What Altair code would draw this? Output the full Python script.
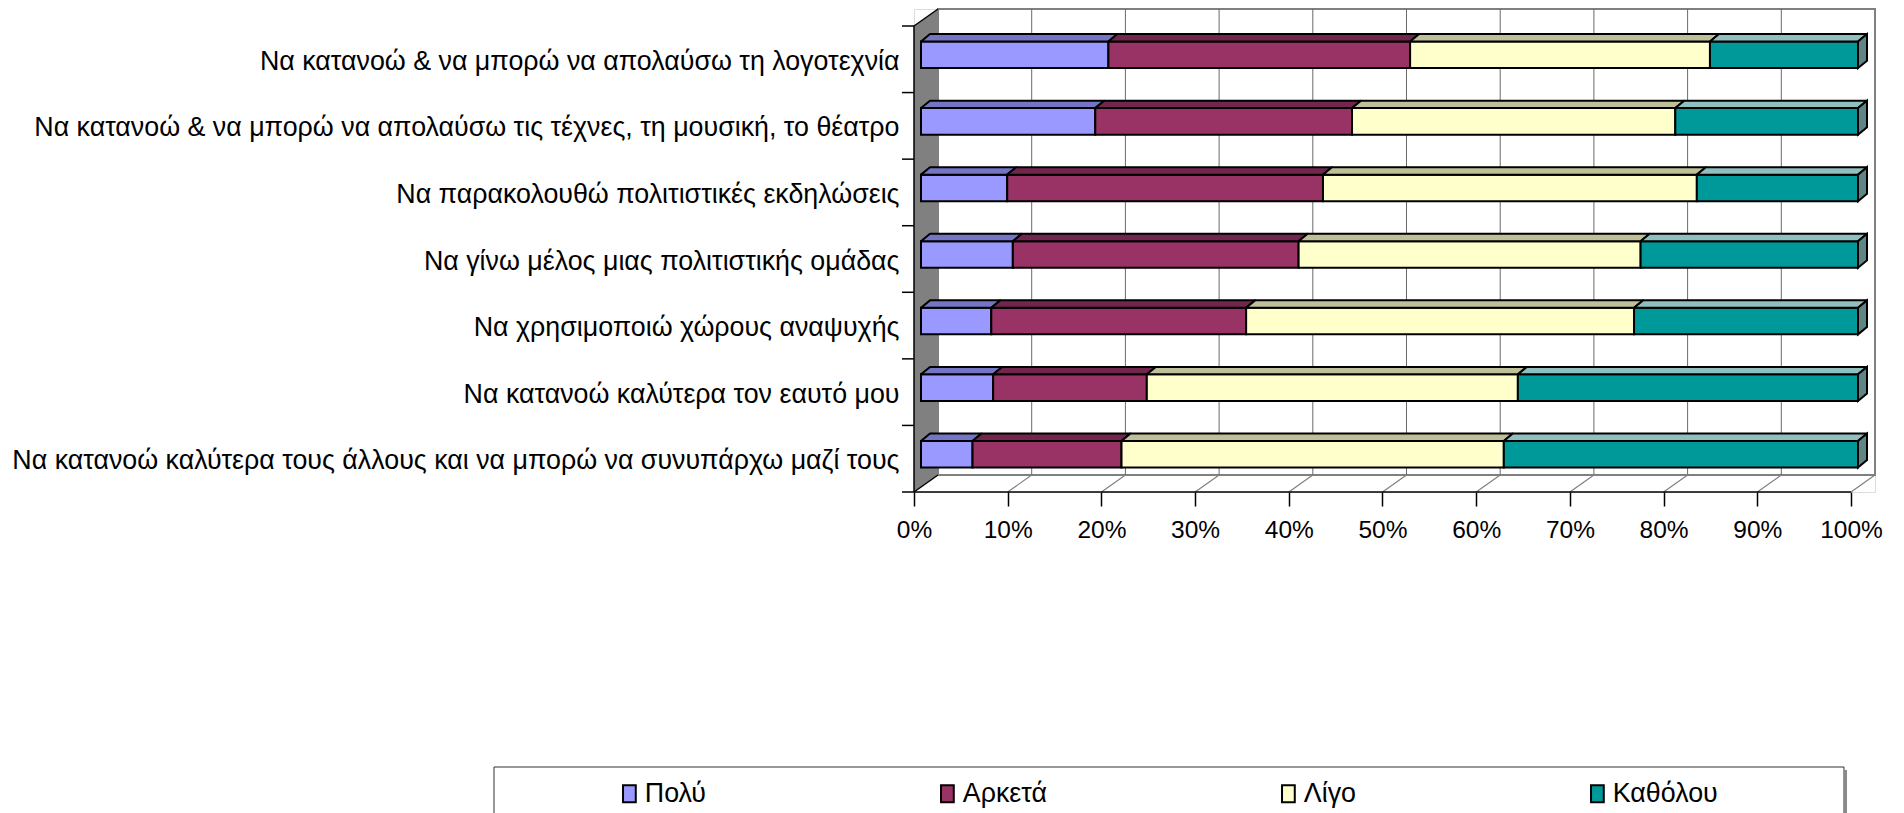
import json
import altair as alt
import pandas as pd

# ---------------- data ----------------
categories = [
    "Να κατανοώ & να μπορώ να απολαύσω τη λογοτεχνία",
    "Να κατανοώ & να μπορώ να απολαύσω τις τέχνες, τη μουσική, το θέατρο",
    "Να παρακολουθώ πολιτιστικές εκδηλώσεις",
    "Να γίνω μέλος μιας πολιτιστικής ομάδας",
    "Να χρησιμοποιώ χώρους αναψυχής",
    "Να κατανοώ καλύτερα τον εαυτό μου",
    "Να κατανοώ καλύτερα τους άλλους και να μπορώ να συνυπάρχω μαζί τους",
]
series = ["Πολύ", "Αρκετά", "Λίγο", "Καθόλου"]
poly = [20.0, 18.6, 9.2, 9.8, 7.5, 7.7, 5.5]
arketa = [32.2, 27.4, 33.7, 30.5, 27.2, 16.4, 15.9]
ligo = [32.0, 34.5, 39.9, 36.5, 41.4, 39.6, 40.8]
katholou = [15.8, 19.5, 17.2, 23.2, 23.9, 36.3, 37.8]
x_ticks = [0, 10, 20, 30, 40, 50, 60, 70, 80, 90, 100]

# ---------------- styles ----------------
front_colors = ["#9999FF", "#993366", "#FFFFCC", "#009999"]
top_colors = ["#7575C6", "#73264D", "#BFBF99", "#8FBFBF"]
side_color = "#5F8585"
FONT = "Liberation Sans"
FS_CAT = 26.8
FS_TICK = 24.5
FS_LEG = 26.8

# ---------------- layout (pixels) ----------------
PAD_LEFT, PAD_TOP, PAD_RIGHT = 906, 1, 10
W, H = 961, 483
TOTAL_H = 805
PAD_BOTTOM = TOTAL_H - PAD_TOP - H
PX_PER_PCT = 9.37
N = len(categories)
WALL_DX_PX, WALL_DY_PX = 24, 17
SLOT_PX = (H - WALL_DY_PX) / N
XMAX = W / PX_PER_PCT
YMAX = H / SLOT_PX
WDX = WALL_DX_PX / PX_PER_PCT
WDY = WALL_DY_PX / SLOT_PX
BOX = 7 / PX_PER_PCT
BOY = 4.5 / SLOT_PX
BHALF = 13.3 / SLOT_PX
BDX = 9 / PX_PER_PCT
BDY = 7.4 / SLOT_PX
TICK = 12 / PX_PER_PCT

# legend frame (pixels relative to plot origin)
LEG_L, LEG_R, LEG_T, LEG_B = -420, 930, 758, 830

xs = alt.Scale(domain=[0, XMAX], nice=False, zero=False)
ys = alt.Scale(domain=[0, YMAX], nice=False, zero=False)

label_expr = json.dumps(categories, ensure_ascii=False) + f"[round({N - 0.5} - datum.value)]"
XAXIS = alt.Axis(values=x_ticks, labelExpr="datum.value + '%'", domain=False, grid=False,
                 tickSize=14, tickColor="black", tickWidth=1.5, labelFontSize=FS_TICK,
                 labelColor="black", labelPadding=12, labelFont=FONT, labelFlush=False,
                 labelOverlap=False, title=None)
YAXIS = alt.Axis(values=[N - 0.5 - k for k in range(N)], labelExpr=label_expr, domain=False,
                 grid=False, ticks=False, tickSize=0, labelPadding=15, labelFontSize=FS_CAT,
                 labelColor="black", labelLimit=2000, labelOverlap=False, labelFont=FONT,
                 labelOffset=2, title=None)


def X(field="x:Q", **kw):
    return alt.X(field, scale=xs, axis=XAXIS, title=None, **kw)


def Y(field="y:Q", **kw):
    return alt.Y(field, scale=ys, axis=YAXIS, title=None, **kw)


def px_x(p):
    return p / PX_PER_PCT


def px_y(p):
    return YMAX - p / SLOT_PX


# ---------------- build tables ----------------
values = [poly, arketa, ligo, katholou]
front_rows, top_rows, side_rows = [], [], []
for i, cat in enumerate(categories):
    c = N - i - 0.5
    cum = 0.0
    for s, name in enumerate(series):
        v = values[s][i]
        x0, x1 = cum + BOX, cum + v + BOX
        yb, yt = c + BOY - BHALF, c + BOY + BHALF
        front_rows.append(dict(cat=cat, series=name, value=v, x=x0, x2=x1, y=yb, y2=yt))
        pid = f"{i}-{s}"
        top_rows.append(dict(id=pid, y=yt, x=x0, x2=x1, fill=top_colors[s]))
        top_rows.append(dict(id=pid, y=yt + BDY, x=x0 + BDX, x2=x1 + BDX, fill=top_colors[s]))
        cum += v
    xr = cum + BOX
    side_rows.append(dict(id=str(i), x=xr, y=c + BOY - BHALF, y2=c + BOY + BHALF))
    side_rows.append(dict(id=str(i), x=xr + BDX, y=c + BOY - BHALF + BDY, y2=c + BOY + BHALF + BDY))

front_df = pd.DataFrame(front_rows)
top_df = pd.DataFrame(top_rows)
side_df = pd.DataFrame(side_rows)

wall_df = pd.DataFrame([dict(x=WDX, x2=100 + WDX, y=WDY, y2=N + WDY)])
lwall_df = pd.DataFrame([dict(x=0, y=0, y2=N), dict(x=WDX, y=WDY, y2=N + WDY)])

grid_df = pd.DataFrame([dict(x=t + WDX, y=WDY, y2=N + WDY) for t in x_ticks[1:-1]])
floor_df = pd.DataFrame([dict(x=t, y=0, x2=t + WDX, y2=WDY) for t in x_ticks[1:]])
edge_df = pd.DataFrame(
    [dict(x=0, y=0, x2=100, y2=0), dict(x=0, y=0, x2=0, y2=N), dict(x=0, y=N, x2=WDX, y2=N + WDY),
     dict(x=0, y=0, x2=WDX, y2=WDY)]
)
ytick_df = pd.DataFrame([dict(x=-TICK, x2=0, y=k, y2=k) for k in range(N + 1)])
legbox_df = pd.DataFrame([dict(x=px_x(LEG_L), x2=px_x(LEG_R), y=px_y(LEG_B), y2=px_y(LEG_T))])
legshadow_df = pd.DataFrame([dict(x=px_x(LEG_R + 1.5), y=px_y(LEG_B), y2=px_y(LEG_T + 3))])

# ---------------- layers ----------------
back_wall = alt.Chart(wall_df).mark_rect(fill="white", stroke="#808080", strokeWidth=2).encode(
    x=X(), x2="x2:Q", y=Y(), y2="y2:Q",
)
grid = alt.Chart(grid_df).mark_rule(color="#6a6a6a", strokeWidth=1).encode(
    x=X(), y=Y(), y2="y2:Q"
)
floor = alt.Chart(floor_df).mark_rule(color="#808080", strokeWidth=1.2).encode(
    x=X(), x2="x2:Q", y=Y(), y2="y2:Q",
)
left_wall = alt.Chart(lwall_df).mark_area(orient="vertical", color="#808080").encode(
    x=X(stack=None), y=Y(stack=None), y2="y2:Q",
)
edges = alt.Chart(edge_df).mark_rule(color="black", strokeWidth=1.5).encode(
    x=X(), x2="x2:Q", y=Y(), y2="y2:Q",
)
yticks = alt.Chart(ytick_df).mark_rule(color="black", strokeWidth=1.5).encode(
    x=X(), x2="x2:Q", y=Y(), y2="y2:Q",
)
legbox = alt.Chart(legbox_df).mark_rect(fill="white", stroke="#303030", strokeWidth=1).encode(
    x=X(), x2="x2:Q", y=Y(), y2="y2:Q",
)
legshadow = alt.Chart(legshadow_df).mark_rule(color="#8a8a8a", strokeWidth=3).encode(
    x=X(), y=Y(), y2="y2:Q",
)

front = alt.Chart(front_df).mark_rect(stroke="black", strokeWidth=2).encode(
    x=X(), x2="x2:Q", y=Y(), y2="y2:Q",
    color=alt.Color(
        "series:N",
        scale=alt.Scale(domain=series, range=front_colors),
        legend=alt.Legend(
            orient="none", legendX=-298, legendY=771, direction="horizontal", columns=4,
            columnPadding=228, title=None, padding=0,
            labelFontSize=FS_LEG, labelFont=FONT, labelColor="black", labelOffset=2,
            labelLimit=2000,
            symbolType="M-0.75,-1L0.75,-1L0.75,1L-0.75,1Z", symbolSize=289,
            symbolStrokeColor="black", symbolStrokeWidth=2, symbolOpacity=1,
        ),
    ),
)
tops = alt.Chart(top_df).mark_area(orient="horizontal", stroke="black", strokeWidth=2, strokeJoin="round").encode(
    y=Y(stack=None), x=X(stack=None), x2="x2:Q",
    detail="id:N",
    fill=alt.Fill("fill:N", scale=None),
)
sides = alt.Chart(side_df).mark_area(orient="vertical", stroke="black", strokeWidth=2, fill=side_color).encode(
    x=X(stack=None), y=Y(stack=None), y2="y2:Q",
    detail="id:N",
)

chart = (
    alt.layer(legbox, legshadow, back_wall, grid, left_wall, floor, edges, yticks, front, tops, sides)
    .properties(
        width=W, height=H,
        autosize=alt.AutoSizeParams(type="none"),
        padding={"left": PAD_LEFT, "top": PAD_TOP, "right": PAD_RIGHT, "bottom": PAD_BOTTOM},
        background="white",
    )
    .configure_view(stroke=None)
    .configure(font=FONT)
)

chart.save("out.html", embed_options={"renderer": "svg", "actions": False})
